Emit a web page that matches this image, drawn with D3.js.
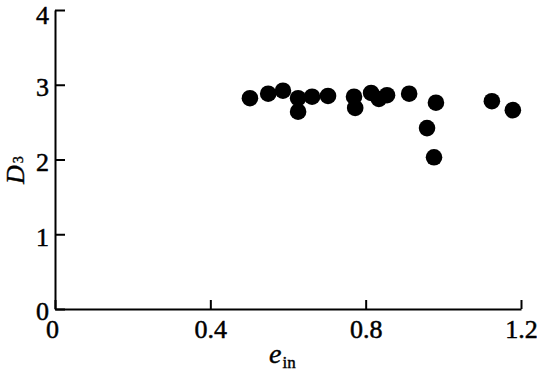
<!DOCTYPE html>
<html>
<head>
<meta charset="utf-8">
<script src="https://cdn.jsdelivr.net/npm/d3@7"></script>
<style>
  html, body { margin: 0; padding: 0; background: #fff; }
</style>
</head>
<body>
<div id="chart"></div>
<script>
// values
const ein = [0.502, 0.549, 0.587, 0.626, 0.626, 0.662, 0.703, 0.770, 0.773,
             0.814, 0.834, 0.855, 0.912, 0.958, 0.981, 0.976, 1.125, 1.179];
const d3v = [2.82, 2.88, 2.92, 2.82, 2.64, 2.84, 2.85, 2.84, 2.69,
             2.89, 2.81, 2.86, 2.88, 2.42, 2.76, 2.03, 2.78, 2.66];
const xTicks = [0, 0.4, 0.8, 1.2];
const yTicks = [0, 1, 2, 3, 4];

const FONT = 'Liberation Serif';
const w = 537, h = 371;
const margin = { left: 55, right: 16, top: 10, bottom: 62 };

const svg = d3.select('#chart').append('svg')
  .attr('width', w)
  .attr('height', h)
  .attr('font-family', FONT);

const x = d3.scaleLinear()
  .domain([0, 1.2])
  .range([margin.left, w - margin.right]);

const y = d3.scaleLinear()
  .domain([0, 4])
  .range([h - margin.bottom, margin.top]);

// x-axis, ticks pointing inward
const gx = svg.append('g')
  .attr('transform', `translate(0, ${h - margin.bottom})`)
  .call(d3.axisBottom(x)
    .tickValues(xTicks)
    .tickFormat(d => d === 0 ? '0' : d3.format('.1f')(d))
    .tickSizeInner(-9)
    .tickSizeOuter(0)
    .tickPadding(10));

// y-axis
const gy = svg.append('g')
  .attr('transform', `translate(${margin.left}, 0)`)
  .call(d3.axisLeft(y)
    .tickValues(yTicks)
    .tickFormat(d3.format('d'))
    .tickSizeInner(-10)
    .tickSizeOuter(0)
    .tickPadding(6));

[gx, gy].forEach(g => {
  g.attr('font-family', FONT).attr('font-size', 26);
  g.select('.domain').attr('stroke', '#000').attr('stroke-width', 2);
  g.selectAll('.tick line').attr('stroke', '#000').attr('stroke-width', 2);
  g.selectAll('.tick text')
    .attr('fill', '#000')
    .attr('stroke', '#000')
    .attr('stroke-width', 0.5);
});
gx.selectAll('.tick text').attr('dy', '0.72em');
gx.selectAll('.tick').filter(d => d === 0).select('text').attr('dx', -3);
gy.selectAll('.tick text').attr('dy', d => d === 4 ? '0.52em' : '0.42em');

// points
svg.append('g')
  .selectAll('circle')
  .data(ein.map((e, i) => ({ e: e, v: d3v[i] })))
  .join('circle')
  .attr('cx', d => x(d.e))
  .attr('cy', d => y(d.v))
  .attr('r', 8.3)
  .attr('fill', '#000');

// axis titles
const xl = svg.append('text')
  .attr('x', 269)
  .attr('y', 363)
  .attr('font-size', 28)
  .attr('stroke', '#000')
  .attr('stroke-width', 0.4);
xl.append('tspan').attr('font-style', 'italic').text('e');
xl.append('tspan').attr('font-size', 17).attr('dy', 5).attr('dx', 1).text('in');

const yl = svg.append('text')
  .attr('transform', 'translate(24, 184) rotate(-90)')
  .attr('font-size', 26)
  .attr('stroke', '#000')
  .attr('stroke-width', 0.4);
yl.append('tspan').attr('font-style', 'italic').text('D');
yl.append('tspan').attr('font-size', 14).attr('dy', -1).attr('dx', 2).text('3');
</script>
</body>
</html>
